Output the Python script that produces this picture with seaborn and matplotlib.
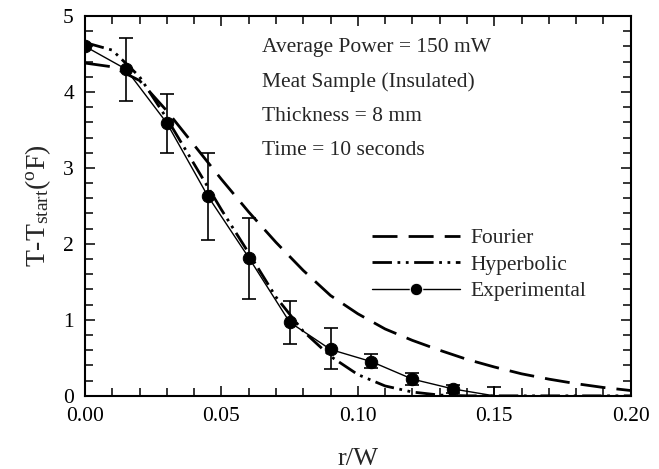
import numpy as np
import pandas as pd
import matplotlib
matplotlib.use("Agg")
import matplotlib.pyplot as plt
import seaborn as sns
from matplotlib.ticker import MultipleLocator, FormatStrFormatter

# values
fourier_x = [0.0, 0.01, 0.02, 0.03, 0.04, 0.05, 0.06, 0.07, 0.08, 0.09, 0.10,
             0.11, 0.12, 0.13, 0.14, 0.15, 0.16, 0.17, 0.18, 0.19, 0.20]
fourier_y = [4.38, 4.33, 4.15, 3.75, 3.30, 2.85, 2.42, 2.02, 1.65, 1.32, 1.08,
             0.88, 0.73, 0.60, 0.48, 0.38, 0.29, 0.22, 0.16, 0.11, 0.07]

hyper_x = [0.0, 0.01, 0.02, 0.03, 0.04, 0.05, 0.06, 0.07, 0.08, 0.09, 0.10,
           0.11, 0.12, 0.13, 0.14, 0.15, 0.20]
hyper_y = [4.65, 4.55, 4.20, 3.65, 3.05, 2.45, 1.88, 1.30, 0.85, 0.52, 0.28,
           0.13, 0.05, 0.01, 0.0, 0.0, 0.0]

exp_x = [0.0, 0.015, 0.03, 0.045, 0.06, 0.075, 0.09, 0.105, 0.12, 0.135, 0.15]
exp_y = [4.60, 4.30, 3.59, 2.63, 1.82, 0.97, 0.61, 0.45, 0.22, 0.09, 0.0]
err_lo = [4.60, 3.88, 3.20, 2.05, 1.28, 0.68, 0.35, 0.36, 0.14, 0.04, 0.0]
err_hi = [4.60, 4.71, 3.97, 3.20, 2.34, 1.25, 0.89, 0.55, 0.30, 0.14, 0.12]

notes = ["Average Power = 150 mW", "Meat Sample (Insulated)",
         "Thickness = 8 mm", "Time = 10 seconds"]

sns.set_style("ticks")
plt.rcParams['font.family'] = ['Liberation Serif', 'DejaVu Serif']
plt.rcParams['mathtext.fontset'] = 'custom'
plt.rcParams['mathtext.rm'] = 'Liberation Serif'
plt.rcParams['mathtext.it'] = 'Liberation Serif:italic'

fig = plt.figure(figsize=(6.59, 4.69), dpi=100)
ax = fig.add_axes([0.129, 0.156, 0.828, 0.810])

sns.lineplot(x=fourier_x, y=fourier_y, ax=ax, color='black', linewidth=2.0,
             linestyle=(0, (9, 4)), label='Fourier')
sns.lineplot(x=hyper_x, y=hyper_y, ax=ax, color='black', linewidth=2.0,
             linestyle=(0, (7, 2, 1, 2, 1, 2)), label='Hyperbolic')

# experimental: points with markers, last point sits on the axis without marker
sns.lineplot(x=exp_x, y=exp_y, ax=ax, color='black', linewidth=1.0,
             label='Experimental')
sns.scatterplot(x=exp_x[:-1], y=exp_y[:-1], ax=ax, color='black', s=80,
                edgecolor='black', zorder=5)
ey = np.array(exp_y)
yerr = np.vstack([ey - np.array(err_lo), np.array(err_hi) - ey])
ax.errorbar(exp_x[1:], exp_y[1:], yerr=yerr[:, 1:], fmt='none', ecolor='black',
            elinewidth=1.2, capsize=5, capthick=1.2)

ax.set_xlim(0, 0.20)
ax.set_ylim(0, 5)
ax.xaxis.set_major_locator(MultipleLocator(0.05))
ax.xaxis.set_minor_locator(MultipleLocator(0.01))
ax.xaxis.set_major_formatter(FormatStrFormatter('%.2f'))
ax.yaxis.set_major_locator(MultipleLocator(1))
ax.yaxis.set_minor_locator(MultipleLocator(0.2))
ax.tick_params(which='both', direction='in', top=True, right=True,
               labelsize=15.5, pad=8, colors='black')
ax.tick_params(which='major', length=7, width=1.1)
ax.tick_params(which='minor', length=6, width=1.1)
for s in ax.spines.values():
    s.set_linewidth(1.5)
    s.set_color('black')

ax.set_xlabel('r/W', fontsize=19, labelpad=16)
ax.set_ylabel(r'T-T$_{\mathrm{start}}$($^{\mathrm{o}}$F)', fontsize=20, labelpad=7)

for i, t in enumerate(notes):
    ax.text(0.324, 0.918 - i * 0.091, t, transform=ax.transAxes, fontsize=15.5,
            va='center', ha='left')

leg = ax.legend(loc='center left', bbox_to_anchor=(0.49, 0.345), frameon=False,
                fontsize=15.5, handlelength=4.1, handletextpad=0.5,
                labelspacing=0.3)
# give the experimental legend entry a centred marker
handles = leg.legend_handles
handles[2].set_marker('o')
handles[2].set_markersize(9)
handles[2].set_markevery([1])

fig.savefig('out.png', dpi=100)
